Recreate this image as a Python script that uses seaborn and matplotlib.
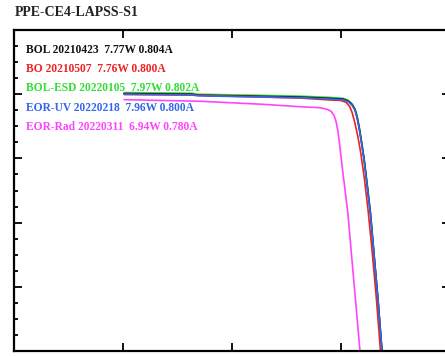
import pandas as pd
import matplotlib
matplotlib.use('Agg')
import matplotlib.pyplot as plt
from matplotlib.ticker import MultipleLocator
import seaborn as sns

# I-V sweeps (volts, amps)
labels = ['BOL 20210423  7.77W 0.804A',
          'BO 20210507  7.76W 0.800A',
          'BOL-ESD 20220105  7.97W 0.802A',
          'EOR-UV 20220218  7.96W 0.800A',
          'EOR-Rad 20220311  6.94W 0.780A']
runs = ['BOL', 'BO', 'BOL-ESD', 'EOR-UV', 'EOR-Rad']
colors = ['#111111', '#ee2222', '#33dd33', '#3366ee', '#ff44ff']
draw_order = ['BOL-ESD', 'BOL', 'BO', 'EOR-UV', 'EOR-Rad']

v_bol = [3.03, 4.0, 4.9, 5.05, 6.5, 7.87, 8.70, 9.055, 9.193, 9.303, 9.385, 9.44, 9.495,
         9.55, 9.633, 9.716, 9.812, 9.908, 10.018, 10.128]
i_bol = [0.802, 0.801, 0.800, 0.797, 0.794, 0.791, 0.787, 0.785, 0.779, 0.768, 0.752, 0.730,
         0.699, 0.661, 0.599, 0.521, 0.427, 0.302, 0.160, 0.0]

v_bo = [3.03, 4.93, 6.5, 7.87, 8.697, 8.972, 9.138, 9.234, 9.303, 9.385, 9.468, 9.55,
        9.647, 9.743, 9.853, 9.977, 10.087]
i_bo = [0.799, 0.797, 0.792, 0.788, 0.782, 0.781, 0.775, 0.7625, 0.744, 0.709, 0.666, 0.6125,
        0.534, 0.441, 0.316, 0.159, 0.0]

v_esd = [3.03, 4.0, 4.9, 5.05, 6.5, 7.87, 8.70, 9.06, 9.20, 9.31, 9.39, 9.445, 9.50,
         9.555, 9.638, 9.72, 9.815, 9.91, 10.02, 10.13]
i_esd = [0.805, 0.804, 0.803, 0.800, 0.797, 0.794, 0.790, 0.787, 0.781, 0.769, 0.753, 0.731,
         0.700, 0.661, 0.599, 0.521, 0.427, 0.302, 0.160, 0.0]

v_uv = [3.03, 4.0, 4.9, 5.05, 6.5, 7.87, 8.697, 9.055, 9.193, 9.303, 9.385, 9.44, 9.495,
        9.55, 9.633, 9.716, 9.812, 9.908, 10.018, 10.128]
i_uv = [0.800, 0.799, 0.798, 0.795, 0.792, 0.789, 0.785, 0.783, 0.777, 0.766, 0.750, 0.728,
        0.697, 0.659, 0.597, 0.519, 0.425, 0.300, 0.159, 0.0]

v_rad = [3.03, 5.12, 6.77, 7.87, 8.422, 8.615, 8.725, 8.807, 8.862, 8.917, 8.972, 9.041,
         9.11, 9.193, 9.289, 9.399, 9.523]
i_rad = [0.783, 0.778, 0.769, 0.761, 0.758, 0.753, 0.747, 0.734, 0.716, 0.684, 0.634, 0.566,
         0.503, 0.425, 0.300, 0.159, 0.0]

volts = dict(zip(runs, [v_bol, v_bo, v_esd, v_uv, v_rad]))
amps = dict(zip(runs, [i_bol, i_bo, i_esd, i_uv, i_rad]))

df = pd.concat([pd.DataFrame({'V': volts[r], 'I': amps[r], 'run': r})
                for r in draw_order], ignore_index=True)

sns.set_style('ticks')
plt.rcParams['font.family'] = ['Liberation Serif', 'DejaVu Serif']

fig = plt.figure(figsize=(4.45, 3.56), dpi=100)
ax = fig.add_axes([14 / 445, 5 / 356, 436 / 445, 321 / 356])

sns.lineplot(data=df, x='V', y='I', hue='run', hue_order=draw_order,
             palette=dict(zip(runs, colors)),
             estimator=None, sort=False, lw=1.2, legend=False, ax=ax)

ax.set_xlim(0, 12)
ax.set_ylim(0, 1.0)
ax.xaxis.set_major_locator(MultipleLocator(3))
ax.yaxis.set_major_locator(MultipleLocator(0.2))
ax.yaxis.set_minor_locator(MultipleLocator(0.05))
ax.tick_params(which='both', direction='in', top=True, right=True,
               labelleft=False, labelbottom=False, width=1.3, color='black')
ax.tick_params(which='major', length=6)
ax.tick_params(axis='y', which='major', left=True, length=6)
ax.tick_params(which='minor', length=3)
ax.tick_params(axis='y', which='minor', right=False)
ax.set_xlabel('')
ax.set_ylabel('')
for s in ax.spines.values():
    s.set_visible(True)
    s.set_linewidth(1.6)
    s.set_color('black')

for k, (lab, c) in enumerate(zip(labels, colors)):
    ax.text(0.028, 0.938 - k * 0.06, lab, color=c, transform=ax.transAxes,
            fontsize=8.3, fontweight='bold', va='center', ha='left')

fig.text(15 / 445, 1 - 12 / 356, 'PPE-CE4-LAPSS-S1', fontsize=10,
         fontweight='bold', va='center', ha='left', color='#222222')

fig.savefig('out.png', dpi=100)
